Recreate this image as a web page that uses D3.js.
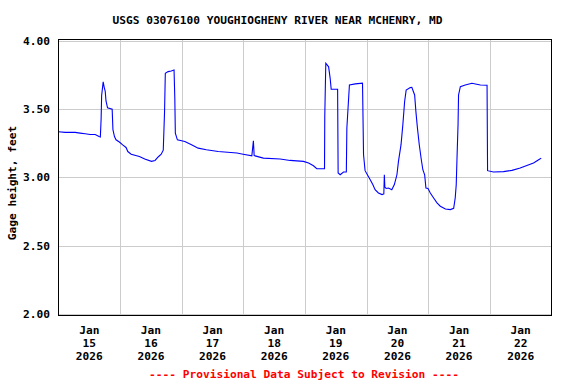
<!DOCTYPE html>
<html>
<head>
<meta charset="utf-8">
<script src="https://cdn.jsdelivr.net/npm/d3@7"></script>
<style>
  body { margin: 0; background: #fff; }
  svg text { font-family: "DejaVu Sans Mono", "Liberation Mono", monospace; font-weight: bold; font-size: 11.2px; }
</style>
</head>
<body>
<div id="chart"></div>
<script>
const title = "USGS 03076100 YOUGHIOGHENY RIVER NEAR MCHENRY, MD";
const yLabel = "Gage height, feet";
const note = "---- Provisional Data Subject to Revision ----";

const start = new Date(2026, 0, 15, 0, 0);
const end = new Date(2026, 0, 23, 0, 0);

const yTicks = [2.0, 2.5, 3.0, 3.5, 4.0];
const dayLabels = ["15", "16", "17", "18", "19", "20", "21", "22"];

// hours since Jan 15 00:00
const hours = [
  0, 2.6, 6.5, 8.4, 10.4, 12.3, 14.3, 15.8, 16.3, 16.6, 16.8, 17.4, 17.8, 18.2, 18.5, 19.1,
  20.9, 21.2, 21.8, 22.4, 23.7, 25.0, 26.3, 27.0, 28.3, 31.5, 33.6, 36.2, 37.6, 38.8, 40.0,
  40.8, 41.3, 41.6, 42.7, 43.9, 45.0, 45.3, 45.5, 46.3, 49.2, 51.8, 54.4, 57.6, 62.2, 69.5,
  71.4, 75.3, 75.9, 76.2, 79.8, 86.3, 90.2, 95.4, 97.4, 99.3, 100.6, 103.6, 103.7, 104.1,
  105.2, 105.8, 106.2, 108.7, 108.9, 109.7, 111.0, 112.1, 112.3, 113.3, 115.6, 118.4, 118.8,
  119.4, 120.3, 121.4, 122.4, 123.3, 124.6, 126.0, 126.7, 126.9, 127.1, 127.6, 128.5, 129.8,
  130.8, 131.8, 132.4, 133.4, 134.1, 134.8, 135.4, 137.0, 137.6, 138.7, 139.2, 139.8, 140.5,
  141.3, 141.9, 142.6, 143.1, 143.9, 144.8, 146.1, 147.4, 148.7, 150.7, 152.6, 153.9, 154.5,
  154.9, 155.2, 155.6, 155.8, 156.5, 158.4, 161.0, 164.3, 166.9, 167.1, 169.4, 173.3, 176.6,
  179.8, 182.4, 185.0, 187.0, 188.0
];

const gage = [
  3.335, 3.33, 3.33, 3.325, 3.32, 3.315, 3.315, 3.30, 3.296, 3.43, 3.60, 3.70, 3.66, 3.63, 3.56, 3.51,
  3.50, 3.35, 3.30, 3.276, 3.26, 3.239, 3.22, 3.19, 3.17, 3.154, 3.135, 3.118, 3.125, 3.15, 3.17,
  3.20, 3.48, 3.763, 3.775, 3.78, 3.787, 3.58, 3.325, 3.276, 3.264, 3.24, 3.215, 3.203, 3.19, 3.179,
  3.172, 3.159, 3.269, 3.16, 3.142, 3.135, 3.125, 3.118, 3.106, 3.086, 3.064, 3.064, 3.446, 3.836,
  3.81, 3.726, 3.646, 3.646, 3.033, 3.02, 3.04, 3.04, 3.36, 3.677, 3.685, 3.69, 3.166,
  3.05, 3.02, 2.984, 2.948, 2.911, 2.887, 2.875, 2.88, 3.02, 2.93, 2.92, 2.923, 2.911,
  2.948, 3.02, 3.118, 3.24, 3.385, 3.556, 3.64, 3.658, 3.66, 3.604, 3.48, 3.36, 3.24,
  3.13, 3.057, 3.02, 2.923, 2.92, 2.887, 2.85, 2.814, 2.79, 2.77, 2.765, 2.775, 2.85,
  2.948, 3.142, 3.385, 3.604, 3.665, 3.677, 3.69, 3.677, 3.675, 3.05, 3.04, 3.043, 3.052,
  3.069, 3.088, 3.106, 3.13, 3.142
];

const W = 576, H = 384;
const plotL = 58.5, plotR = 551.5, plotT = 39.5, plotB = 315.5;

const svg = d3.select("#chart").append("svg")
  .attr("width", W)
  .attr("height", H);

const x = d3.scaleTime().domain([start, end]).range([plotL, plotR]);
const y = d3.scaleLinear().domain([1.99, 4.01]).range([plotB, plotT]);

const data = hours.map((h, i) => ({t: d3.timeMinute.offset(start, Math.round(h * 60)), v: gage[i]}));

// grid
const days = d3.timeDay.range(d3.timeDay.offset(start, 1), end);
svg.append("g").selectAll("line").data(days).join("line")
  .attr("x1", d => Math.round(x(d)) + 0.5).attr("x2", d => Math.round(x(d)) + 0.5)
  .attr("y1", plotT).attr("y2", plotB)
  .attr("stroke", "#cccccc");

svg.append("g").selectAll("line").data(yTicks).join("line")
  .attr("x1", plotL).attr("x2", plotR)
  .attr("y1", d => Math.round(y(d)) + 0.5).attr("y2", d => Math.round(y(d)) + 0.5)
  .attr("stroke", "#cccccc");

// series
const line = d3.line()
  .x(d => x(d.t))
  .y(d => y(d.v));

svg.append("path")
  .datum(data)
  .attr("d", line)
  .attr("fill", "none")
  .attr("stroke", "#0000ff")
  .attr("stroke-width", 1.1);

// frame
svg.append("rect")
  .attr("x", plotL).attr("y", plotT)
  .attr("width", plotR - plotL).attr("height", plotB - plotT)
  .attr("fill", "none")
  .attr("stroke", "#000");

// y tick labels
svg.append("g").selectAll("text").data(yTicks).join("text")
  .attr("x", 50)
  .attr("y", d => y(d))
  .attr("dy", "0.35em")
  .attr("text-anchor", "end")
  .text(d => d.toFixed(2));

// x tick labels at noon
const noons = dayLabels.map((d, i) => d3.timeHour.offset(d3.timeDay.offset(start, i), 12));
const xl = svg.append("g").selectAll("text").data(noons).join("text")
  .attr("text-anchor", "middle");
xl.each(function(d, i) {
  const t = d3.select(this);
  [d3.timeFormat("%b")(d), dayLabels[i], d3.timeFormat("%Y")(d)].forEach((s, k) => {
    t.append("tspan").attr("x", x(d)).attr("y", 334 + k * 13).text(s);
  });
});

svg.append("text")
  .attr("x", 277.5).attr("y", 24)
  .attr("text-anchor", "middle")
  .text(title);

svg.append("text")
  .attr("transform", "translate(16,183) rotate(-90)")
  .attr("text-anchor", "middle")
  .text(yLabel);

svg.append("text")
  .attr("x", 304).attr("y", 378)
  .attr("text-anchor", "middle")
  .attr("fill", "#ff0000")
  .text(note);
</script>
</body>
</html>
